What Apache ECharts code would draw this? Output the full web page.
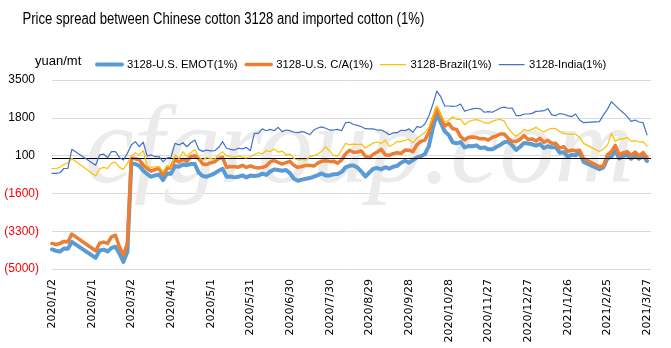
<!DOCTYPE html>
<html><head><meta charset="utf-8">
<script src="https://cdn.jsdelivr.net/npm/echarts@6/dist/echarts.min.js"></script>
<style>html,body{margin:0;padding:0;background:#fff}#c{width:671px;height:348px}</style>
</head><body><div id="c"></div>
<script>
const titleText = 'Price spread between Chinese cotton 3128 and imported cotton (1%)';
const unitText = 'yuan/mt';
const watermarkText = 'cfgroup.com';
const seriesNames = ['3128-U.S. EMOT(1%)', '3128-U.S. C/A(1%)', '3128-Brazil(1%)', '3128-India(1%)'];
const yMin = -5000, yMax = 3500, yStep = 1700;

const dates = [
"2020/1/2","2020/1/5","2020/1/8","2020/1/11","2020/1/14","2020/1/17","2020/1/20","2020/1/23","2020/1/26","2020/1/29",
"2020/2/1","2020/2/4","2020/2/7","2020/2/10","2020/2/13","2020/2/16","2020/2/19","2020/2/22","2020/2/25","2020/2/28",
"2020/3/2","2020/3/5","2020/3/8","2020/3/11","2020/3/14","2020/3/17","2020/3/20","2020/3/23","2020/3/26","2020/3/29",
"2020/4/1","2020/4/4","2020/4/7","2020/4/10","2020/4/13","2020/4/16","2020/4/19","2020/4/22","2020/4/25","2020/4/28",
"2020/5/1","2020/5/4","2020/5/7","2020/5/10","2020/5/13","2020/5/16","2020/5/19","2020/5/22","2020/5/25","2020/5/28",
"2020/5/31","2020/6/3","2020/6/6","2020/6/9","2020/6/12","2020/6/15","2020/6/18","2020/6/21","2020/6/24","2020/6/27",
"2020/6/30","2020/7/3","2020/7/6","2020/7/9","2020/7/12","2020/7/15","2020/7/18","2020/7/21","2020/7/24","2020/7/27",
"2020/7/30","2020/8/2","2020/8/5","2020/8/8","2020/8/11","2020/8/14","2020/8/17","2020/8/20","2020/8/23","2020/8/26",
"2020/8/29","2020/9/1","2020/9/4","2020/9/7","2020/9/10","2020/9/13","2020/9/16","2020/9/19","2020/9/22","2020/9/25",
"2020/9/28","2020/10/1","2020/10/4","2020/10/7","2020/10/10","2020/10/13","2020/10/16","2020/10/19","2020/10/22","2020/10/25",
"2020/10/28","2020/10/31","2020/11/3","2020/11/6","2020/11/9","2020/11/12","2020/11/15","2020/11/18","2020/11/21","2020/11/24",
"2020/11/27","2020/11/30","2020/12/3","2020/12/6","2020/12/9","2020/12/12","2020/12/15","2020/12/18","2020/12/21","2020/12/24",
"2020/12/27","2020/12/30","2021/1/2","2021/1/5","2021/1/8","2021/1/11","2021/1/14","2021/1/17","2021/1/20","2021/1/23",
"2021/1/26","2021/1/29","2021/2/1","2021/2/4","2021/2/7","2021/2/10","2021/2/13","2021/2/16","2021/2/19","2021/2/22",
"2021/2/25","2021/2/28","2021/3/3","2021/3/6","2021/3/9","2021/3/12","2021/3/15","2021/3/18","2021/3/21","2021/3/24",
"2021/3/27","2021/3/30"
];

const usEmot = [
-4120,-4180,-4220,-4080,-4090,-3780,null,null,null,null,
null,-4500,-4170,-4130,-4210,-4050,-4000,-4300,-4680,-4230,
-250,-280,-360,-580,-730,-850,-790,-750,-1000,-700,
-720,-370,-400,-300,-330,-280,-280,-670,-820,-850,
-780,-700,-580,-490,-850,-840,-880,-850,-790,-880,
-800,-820,-800,-710,-770,-620,-520,-550,-580,-550,
-700,-940,-1030,-980,-940,-910,-850,-780,-700,-800,
-790,-740,-730,-640,-430,-360,-340,-440,-620,-840,
-660,-490,-460,-520,-420,-490,-400,-360,-220,-130,
-220,-100,20,70,170,530,1330,1960,1580,1190,
1030,700,650,710,470,530,520,560,440,470,
380,380,490,580,700,730,560,350,500,670,
640,610,550,620,440,520,470,470,230,250,
50,140,110,250,-180,null,null,null,-510,-430,
-30,50,350,-30,80,130,-40,130,-40,100,
-140,null
];

const usCA = [
-3850,-3900,-3850,-3760,-3790,-3430,null,null,null,null,
null,-4180,-3840,-3790,-3850,-3550,-3480,-4000,-4380,-3850,
-10,-40,-90,-330,-480,-600,-520,-480,-750,-480,
-430,-70,-190,-70,-160,50,100,-30,-280,-300,
-220,-180,-40,20,-430,-390,-400,-420,-340,-430,
-360,-430,-460,-430,-370,-180,-120,-210,-280,-220,
-160,-340,-430,-390,-340,-340,-370,-240,-150,-130,
-160,-150,-240,-100,170,340,250,260,310,70,
10,160,260,380,140,110,190,230,200,350,
340,280,590,740,800,1130,1730,2230,1850,1430,
1540,1310,1280,950,800,920,940,910,860,860,
800,920,980,1070,1070,880,730,740,830,1000,
820,850,760,880,700,790,650,650,440,500,
290,350,310,340,-30,null,null,null,-400,-370,
130,280,560,130,230,280,110,260,80,240,
10,null
];

const brazil = [
-480,-480,-430,-300,-240,-30,null,null,null,null,
null,-820,-490,-430,-480,-250,-190,-430,-520,-250,
80,230,130,320,-370,-430,-400,-400,-630,-340,
-450,130,-30,280,50,230,380,20,-100,20,
-40,-70,130,280,80,80,30,80,30,-10,
50,150,230,180,320,280,400,260,300,140,
170,-30,-100,-70,-100,50,100,170,300,500,
300,110,80,350,650,590,620,600,620,440,
560,670,710,650,790,520,600,730,730,790,
830,680,880,1010,1130,1370,1850,2330,1930,1600,
1690,1850,1730,1730,1490,1630,1690,1720,1670,1580,
1550,1640,1700,1730,1650,1330,1120,970,1100,1270,
1220,1280,1370,1250,1160,1270,1330,1310,1180,1100,
1070,1070,1060,930,650,null,null,null,280,400,
560,1100,740,850,850,920,740,770,710,730,
530,null
];

const india = [
-700,-700,-670,-480,-480,380,null,null,null,null,
null,-330,130,170,10,280,280,20,-100,200,
580,730,500,700,80,130,50,50,-180,0,
20,650,580,680,500,680,800,380,290,350,
310,320,460,730,430,380,350,430,400,470,
320,1100,1100,1300,1220,1280,1220,1370,1180,1250,
1220,1150,1130,1180,1130,1040,1250,1340,1390,1330,
1250,1250,1280,1220,1580,1600,1500,1460,1400,1310,
1300,1300,1250,1250,1160,1040,1120,1130,1240,1220,
1300,1150,1400,1370,1520,1880,2400,3000,2750,2330,
2330,2310,2330,2420,2100,2150,2200,2230,2200,2050,
2080,2050,2140,2240,2280,2230,2240,1900,1900,1970,
1970,2000,2090,2100,2120,2210,1930,1900,1990,1960,
1900,1850,1970,1700,1580,null,null,null,1630,1930,
2180,2520,2360,2180,2030,1850,1640,1700,1610,1580,
1030,null
];

const chart = echarts.init(document.getElementById('c'), null, {renderer: 'canvas'});
const seriesData = [usEmot, usCA, brazil, india];
const colors = ['#5B9BD5', '#ED7D31', '#FFC000', '#4472C4'];
const widths = [4, 3.5, 1.2, 1.2];

const series = seriesNames.map((name, i) => ({
  name: name,
  type: 'line',
  data: seriesData[i],
  showSymbol: false,
  symbol: 'none',
  connectNulls: true,
  z: 3 + i,
  lineStyle: {color: colors[i], width: widths[i], join: 'round', cap: 'round'},
  itemStyle: {color: colors[i]},
  emphasis: {disabled: true},
  markLine: i === 0 ? {
    silent: true, symbol: ['none', 'none'], label: {show: false},
    lineStyle: {color: '#000', width: 1, type: 'solid'},
    data: [{yAxis: 0}]
  } : undefined
}));

chart.setOption({
  animation: false,
  backgroundColor: '#ffffff',
  graphic: [
    {type: 'text', x: 19, y: 19.5, scaleX: 0.82, originX: 19, z: 10,
     style: {text: titleText, font: '16px "Liberation Sans"', fill: '#000', verticalAlign: 'middle'}},
    {type: 'text', x: 35, y: 61, z: 10,
     style: {text: unitText, font: '13px "Liberation Sans"', fill: '#000', verticalAlign: 'middle'}},
    {type: 'text', x: 85, y: 153, z: 1, silent: true,
     style: {text: watermarkText, font: 'italic 110px "Liberation Serif"', fill: '#ebebeb', verticalAlign: 'middle'}}
  ],
  legend: {
    left: 90, top: 54, itemWidth: 25, itemHeight: 14, itemGap: 7,
    itemStyle: {opacity: 0},
    textStyle: {fontFamily: 'Liberation Sans', fontSize: 11.3, color: '#000'},
    data: seriesNames.map((name, i) => ({
      name: name,
      lineStyle: {color: colors[i], width: widths[i], opacity: 1}
    }))
  },
  grid: {left: 52, right: 20, top: 80, bottom: 79},
  xAxis: {
    type: 'category', data: dates, boundaryGap: false,
    axisLine: {show: false}, axisTick: {show: false}, splitLine: {show: false},
    axisLabel: {interval: 9, rotate: 90, margin: 10, fontFamily: 'DejaVu Sans', fontSize: 11, color: '#000', padding: [6, 0, 0, 0]}
  },
  yAxis: {
    type: 'value', min: yMin, max: yMax, interval: yStep,
    axisLine: {show: false}, axisTick: {show: false},
    splitLine: {lineStyle: {color: '#d9d9d9', width: 1}},
    axisLabel: {
      margin: 13, fontFamily: 'Liberation Sans', fontSize: 12, color: '#000',
      formatter: v => v < 0 ? '{n|(' + Math.abs(v) + ')}' : '{p|' + v + '}',
      rich: {
        n: {color: '#ff0000', fontFamily: 'Liberation Sans', fontSize: 12},
        p: {color: '#000', fontFamily: 'Liberation Sans', fontSize: 12, padding: [0, 4, 0, 0]}
      }
    }
  },
  series: series
});
</script>
</body></html>
